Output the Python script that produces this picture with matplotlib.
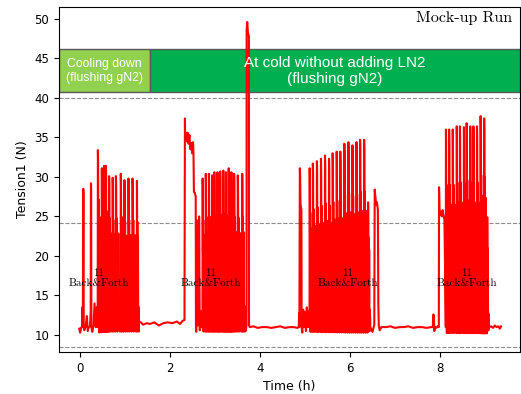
import numpy as np
import matplotlib.pyplot as plt
from matplotlib.patches import Rectangle

# shape of one back&forth stroke: position within the stroke period, fraction of (peak - base)
stroke_pos = [0.00, 0.05, 0.10, 0.16, 0.22, 0.28, 0.34, 0.40, 0.46, 0.52, 0.58, 0.64, 0.70, 0.76, 0.82, 0.88, 0.94]
stroke_lvl = [0.00, 1.00, 0.94, 0.50, 0.72, 0.15, -0.03, 0.13, 0.02, 0.62, 0.10, -0.02, 0.14, 0.04, 0.12, -0.03, 0.08]
base_level = 11.0

# start of run and first two isolated strokes
seg_a_t = [-0.02, 0.00, 0.02, 0.04, 0.05, 0.06, 0.07, 0.075, 0.08, 0.09, 0.12, 0.15, 0.17, 0.19, 0.22,
           0.235, 0.24, 0.245, 0.25, 0.27, 0.30, 0.32, 0.35, 0.37]
seg_a_v = [10.8, 10.3, 10.9, 11.0, 13.5, 11.0, 28.5, 27.8, 11.2, 10.6, 11.0, 12.4, 10.5, 11.0, 11.1,
           13.0, 29.2, 28.8, 11.0, 10.4, 11.2, 14.0, 11.0, 13.5]

# 1st back&forth block
b1_t = [0.39, 0.48, 0.53, 0.57, 0.64, 0.72, 0.79, 0.90, 0.98, 1.07, 1.16, 1.26]
b1_peak = [33.4, 31.1, 31.4, 31.4, 30.1, 29.9, 30.1, 30.4, 29.6, 29.8, 29.8, 29.5]
b1_end = 1.31

# cooling-down rest + jump before 2nd block
seg_b_t = [1.31, 1.35, 1.40, 1.48, 1.55, 1.65, 1.75, 1.85, 1.95, 2.05, 2.15, 2.22, 2.28, 2.32,
           2.33, 2.335, 2.35, 2.37, 2.39, 2.41, 2.43, 2.45, 2.47, 2.49, 2.51, 2.52, 2.53, 2.55,
           2.57, 2.575, 2.58, 2.60, 2.605, 2.62, 2.64, 2.645, 2.66, 2.68, 2.70]
seg_b_v = [11.7, 11.6, 11.3, 11.5, 11.4, 11.6, 11.2, 11.5, 11.6, 11.5, 11.7, 11.4, 11.8, 11.9,
           37.4, 35.0, 35.6, 34.5, 35.6, 34.2, 35.3, 33.5, 34.3, 33.0, 34.4, 33.0, 28.1, 28.0,
           27.5, 11.0, 10.4, 13.5, 24.5, 11.2, 12.8, 25.0, 10.6, 13.0, 11.0]

# 2nd block
b2_t = [2.72, 2.79, 2.86, 2.93, 2.98, 3.05, 3.11, 3.18, 3.24, 3.30, 3.36, 3.42, 3.50, 3.60]
b2_peak = [29.8, 30.4, 30.4, 30.2, 30.6, 30.6, 30.7, 30.8, 30.6, 31.1, 30.6, 30.4, 30.2, 30.4]
b2_end = 3.67

# big spike and rest at cold
seg_c_t = [3.67, 3.68, 3.70, 3.702, 3.715, 3.73, 3.752, 3.755, 3.77, 3.85, 3.95, 4.05, 4.15, 4.25,
           4.35, 4.45, 4.55, 4.65, 4.75, 4.83, 4.86, 4.87, 4.875, 4.885, 4.89, 4.90, 4.91, 4.92,
           4.925, 4.94, 4.96, 4.98, 5.00, 5.02, 5.04, 5.06, 5.08]
seg_c_v = [11.0, 10.5, 11.2, 48.5, 49.6, 48.3, 47.8, 11.2, 11.0, 11.1, 10.9, 11.0, 11.0, 10.9,
           11.0, 11.1, 10.9, 11.0, 11.0, 10.9, 11.0, 12.8, 11.0, 31.1, 30.5, 26.5, 26.2, 25.8,
           11.0, 10.3, 13.2, 11.0, 12.9, 10.5, 13.5, 11.0, 13.0]

# 3rd block
b3_t = [5.10, 5.17, 5.26, 5.35, 5.44, 5.53, 5.61, 5.70, 5.78, 5.87, 5.96, 6.05, 6.14, 6.22, 6.31, 6.40]
b3_peak = [31.1, 31.7, 32.0, 32.3, 32.7, 32.3, 33.0, 33.2, 33.2, 34.2, 34.4, 34.0, 34.4, 34.7, 34.7, 26.8]
b3_end = 6.45

seg_d_t = [6.45, 6.50, 6.54, 6.55, 6.56, 6.58, 6.60, 6.62, 6.63, 6.64, 6.66, 6.70, 6.80, 6.90, 7.00,
           7.10, 7.20, 7.30, 7.40, 7.50, 7.60, 7.70, 7.80, 7.84, 7.855, 7.865, 7.875, 7.89, 7.92,
           7.95, 7.975, 7.98, 7.99, 8.00, 8.02, 8.04, 8.06, 8.08, 8.10]
seg_d_v = [11.0, 10.4, 11.3, 28.4, 27.8, 26.5, 26.8, 25.8, 14.0, 11.2, 10.6, 11.0, 11.0, 11.1, 10.9,
           11.0, 11.0, 11.1, 10.9, 11.0, 11.0, 10.9, 11.0, 11.0, 12.6, 12.2, 10.5, 11.0, 10.9,
           11.1, 11.0, 28.7, 26.0, 25.2, 25.6, 25.0, 25.8, 25.1, 24.6]

# 4th block
b4_t = [8.13, 8.20, 8.28, 8.37, 8.44, 8.53, 8.59, 8.67, 8.74, 8.82, 8.90, 8.98, 9.05]
b4_peak = [36.0, 36.0, 36.0, 36.4, 36.4, 36.3, 36.8, 36.4, 36.4, 36.4, 37.7, 37.4, 24.9]
b4_end = 9.08

seg_e_t = [9.08, 9.10, 9.14, 9.18, 9.22, 9.26, 9.30, 9.33, 9.36]
seg_e_v = [11.2, 11.0, 11.1, 10.9, 11.2, 11.0, 11.1, 10.8, 11.1]

label_t = [0.42, 2.9, 5.95, 8.6]
ref_lines = [40.0, 24.2, 8.5]


def block(times, peaks, t_end):
    bt, bv = [], []
    edges = times + [t_end]
    for i, (t0, pk) in enumerate(zip(times, peaks)):
        gap = edges[i + 1] - t0
        for p, l in zip(stroke_pos, stroke_lvl):
            bt.append(t0 + p * gap)
            bv.append(base_level + l * (pk - base_level))
    return bt, bv


parts = [(seg_a_t, seg_a_v), block(b1_t, b1_peak, b1_end),
         (seg_b_t, seg_b_v), block(b2_t, b2_peak, b2_end),
         (seg_c_t, seg_c_v), block(b3_t, b3_peak, b3_end),
         (seg_d_t, seg_d_v), block(b4_t, b4_peak, b4_end),
         (seg_e_t, seg_e_v)]
time = np.concatenate([p[0] for p in parts])
tension = np.concatenate([p[1] for p in parts])

fig = plt.figure(figsize=(5.21, 3.94), dpi=100)
ax = fig.add_axes([59 / 521, 1 - 352 / 394, 461 / 521, 345 / 394])
xmin, xmax = -0.47, 9.78
ax.set_xlim(xmin, xmax)
ax.set_ylim(7.85, 51.5)

for y in ref_lines:
    ax.axhline(y, color='#8c8c8c', ls='--', lw=0.8, zorder=1)

ax.add_patch(Rectangle((xmin, 40.7), 1.55 - xmin, 5.5, fc='#92D050', ec='#595959', lw=1.0, zorder=2))
ax.add_patch(Rectangle((1.55, 40.7), xmax - 1.55, 5.5, fc='#00B050', ec='#595959', lw=1.0, zorder=2))
ax.text((xmin + 1.55) / 2, 43.45, 'Cooling down\n(flushing gN2)', color='white', fontsize=8.8,
        family='Liberation Sans', ha='center', va='center', zorder=4)
ax.text(5.67, 43.45, 'At cold without adding LN2\n(flushing gN2)', color='white', fontsize=11,
        family='Liberation Sans', ha='center', va='center', zorder=4)

ax.plot(time, tension, color='red', lw=1.5, zorder=3)

for t in label_t:
    ax.text(t, 17.2, '11\nBack&Forth', family='cmr10', fontsize=8, ha='center', va='center',
            linespacing=1.0, zorder=5)
ax.text(9.6, 50.1, 'Mock-up Run', family='cmr10', fontsize=11.5, ha='right', va='center', zorder=5)

ax.set_xticks([0, 2, 4, 6, 8])
ax.set_yticks(np.arange(10, 51, 5))
ax.tick_params(labelsize=8.5, length=3.5)
ax.set_xlabel('Time (h)', fontsize=9)
ax.set_ylabel('Tension1 (N)', fontsize=9)

fig.savefig('out.png', dpi=100)
